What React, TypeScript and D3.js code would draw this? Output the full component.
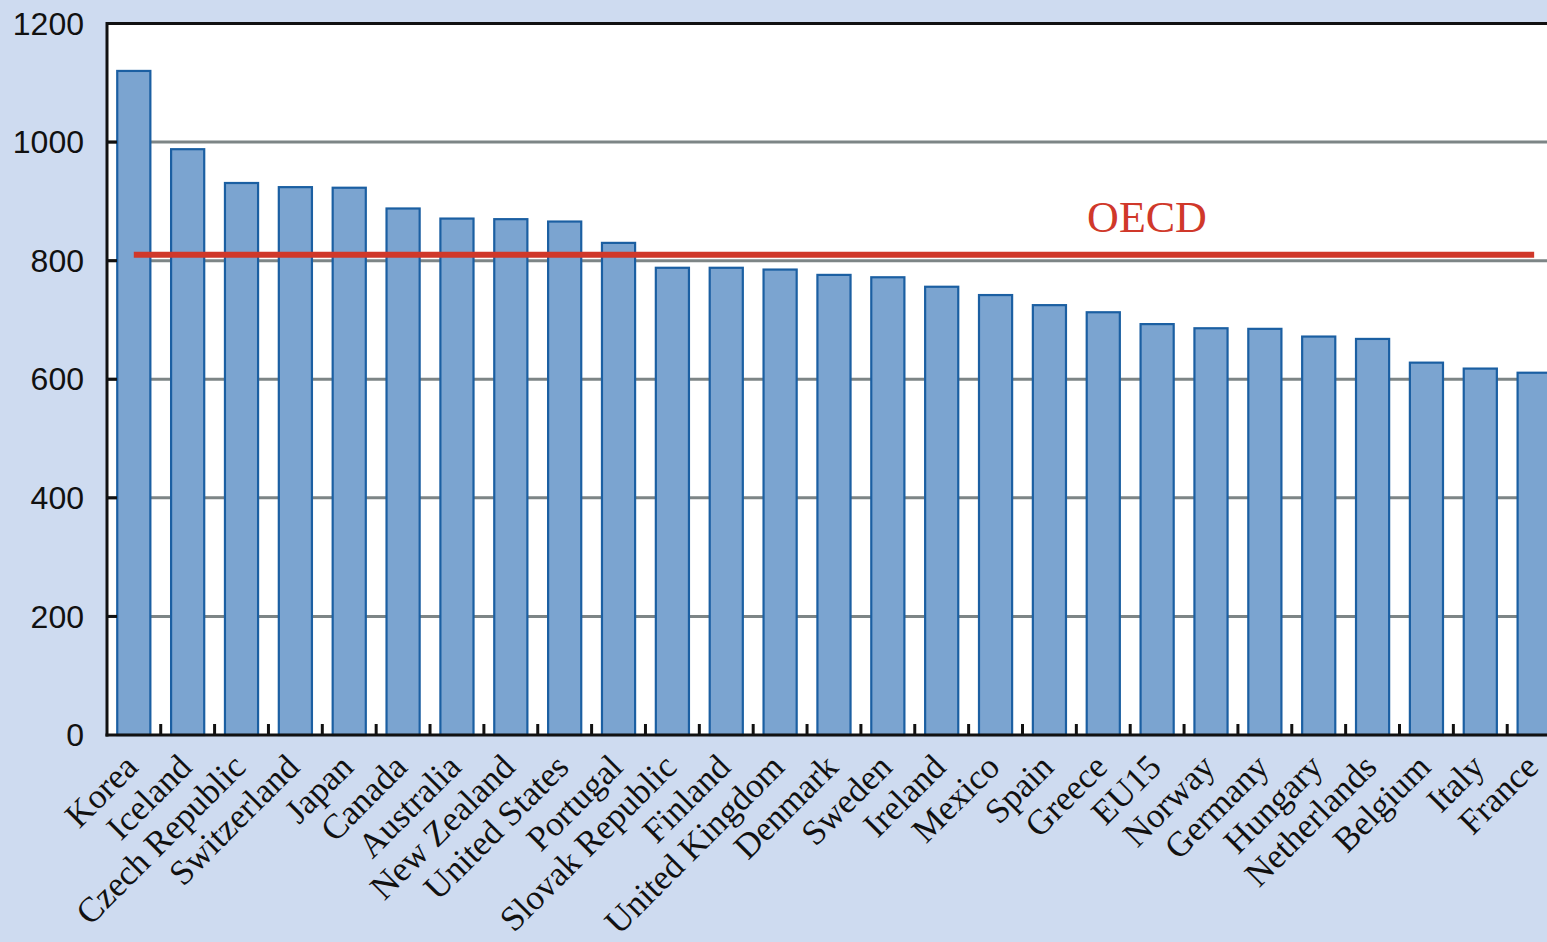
import React from "react";
import * as d3 from "d3";

const categories = [
  "Korea", "Iceland", "Czech Republic", "Switzerland", "Japan", "Canada",
  "Australia", "New Zealand", "United States", "Portugal", "Slovak Republic",
  "Finland", "United Kingdom", "Denmark", "Sweden", "Ireland", "Mexico",
  "Spain", "Greece", "EU15", "Norway", "Germany", "Hungary", "Netherlands",
  "Belgium", "Italy", "France",
];
const values = [
  1120, 988, 931, 924, 923, 888, 871, 870, 866, 830, 788, 788, 785, 776, 772,
  756, 742, 725, 713, 693, 686, 685, 672, 668, 628, 618, 611,
];
const oecdValue = 810;
const oecdLabel = "OECD";
const yTicks = [0, 200, 400, 600, 800, 1000, 1200];

const W = 1547;
const H = 942;
const left = 107;
const top = 23.5;
const bottom = 735;
const step = 53.85;
const right = left + step * categories.length;

export default function App() {
  const x = d3
    .scaleBand<string>()
    .domain(categories)
    .range([left, right])
    .paddingInner(0.385)
    .paddingOuter(0.19);
  const y = d3.scaleLinear().domain([0, 1200]).range([bottom, top]);
  const bw = x.bandwidth();
  const first = categories[0];
  const last = categories[categories.length - 1];
  const boundaries = categories.slice(1).map((c) => x(c)! - (x.step() - bw) / 2);

  return (
    <svg
      width={W}
      height={H}
      style={{ position: "absolute", left: 0, top: 0, display: "block" }}
    >
      <rect x={0} y={0} width={W} height={H} fill="#cedbf0" />
      <rect x={left} y={top} width={right - left + 20} height={bottom - top} fill="#ffffff" />
      {yTicks
        .filter((t) => t > 0 && t < 1200)
        .map((t) => (
          <line key={"g" + t} x1={left} x2={right + 20} y1={y(t)} y2={y(t)} stroke="#7d8586" strokeWidth={3} />
        ))}
      {categories.map((c, i) => (
        <rect
          key={c}
          x={x(c)!}
          y={y(values[i])}
          width={bw}
          height={y(0) - y(values[i])}
          fill="#7ba4d0"
          stroke="#1b5fa2"
          strokeWidth={2.2}
        />
      ))}
      {/* axes */}
      <line x1={left} x2={right + 20} y1={top} y2={top} stroke="#111" strokeWidth={3} />
      <line x1={left} x2={left} y1={top - 1.5} y2={bottom + 1.5} stroke="#111" strokeWidth={3} />
      <line x1={left - 1.5} x2={right + 20} y1={bottom} y2={bottom} stroke="#111" strokeWidth={3} />
      {yTicks
        .filter((t) => t > 0 && t < 1200)
        .map((t) => (
          <line key={"t" + t} x1={left} x2={left + 10} y1={y(t)} y2={y(t)} stroke="#111" strokeWidth={3} />
        ))}
      {boundaries.map((b, i) => (
        <line key={"xt" + i} x1={b} x2={b} y1={bottom} y2={bottom - 11} stroke="#111" strokeWidth={3} />
      ))}
      {yTicks.map((t) => (
        <text
          key={"l" + t}
          x={84}
          y={y(t)}
          dy="0.35em"
          textAnchor="end"
          fontFamily="'Liberation Sans', Arial, sans-serif"
          fontSize={32}
          fill="#111"
        >
          {t}
        </text>
      ))}
      {/* OECD line */}
      <line
        x1={x(first)! + bw / 2}
        x2={x(last)! + bw / 2}
        y1={y(oecdValue)}
        y2={y(oecdValue)}
        stroke="#d0382a"
        strokeWidth={6}
      />
      <text
        x={1147}
        y={232}
        textAnchor="middle"
        fontFamily="'Liberation Serif', 'Times New Roman', serif"
        fontSize={44}
        fill="#d0382a"
      >
        {oecdLabel}
      </text>
      {categories.map((c) => (
        <text
          key={"c" + c}
          transform={`translate(${x(c)! + bw / 2 + 6},${769}) rotate(-45)`}
          textAnchor="end"
          fontFamily="'Liberation Serif', 'Times New Roman', serif"
          fontSize={35}
          fill="#111"
        >
          {c}
        </text>
      ))}
    </svg>
  );
}
